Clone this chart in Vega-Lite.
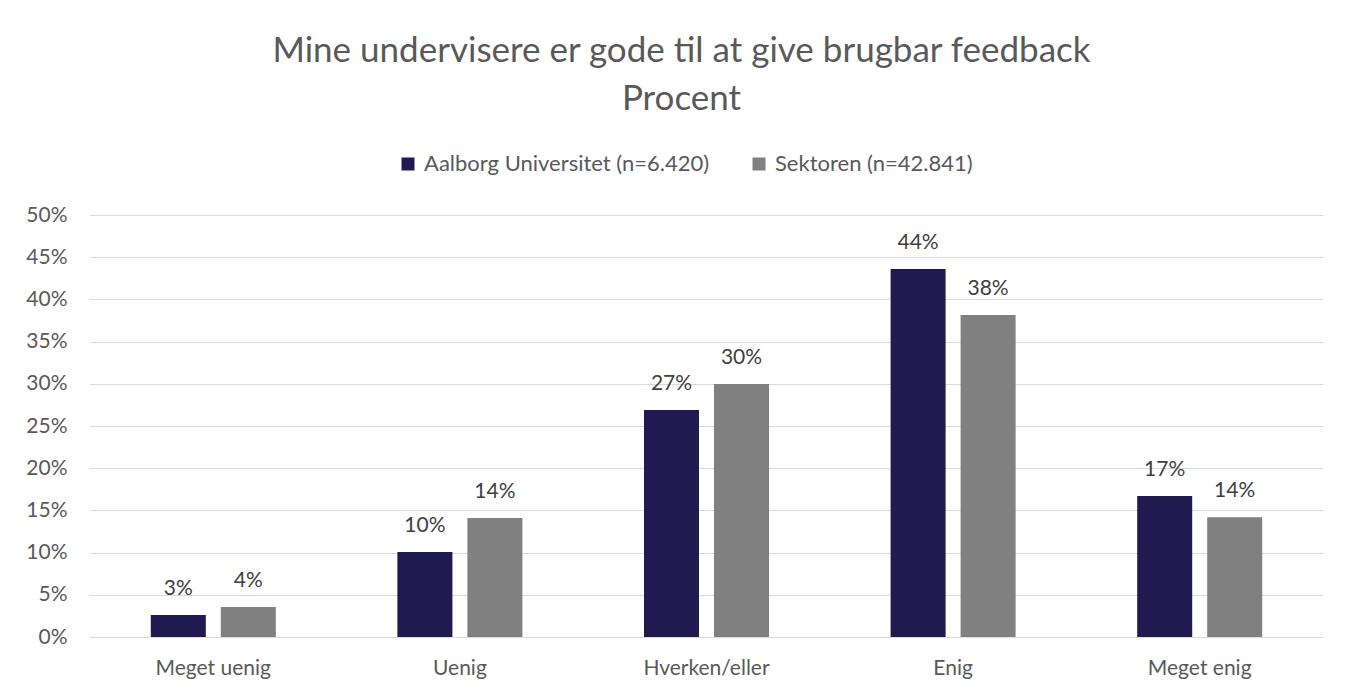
{
  "$schema": "https://vega.github.io/schema/vega-lite/v6.json",
  "width": 1233,
  "height": 422,
  "autosize": {"type": "none"},
  "padding": {"left": 90, "top": 215, "right": 23, "bottom": 56},
  "background": "white",
  "title": {
    "text": ["Mine undervisere er gode til at give brugbar feedback", "Procent"],
    "font": "Lato",
    "fontSize": 35,
    "fontWeight": "normal",
    "color": "#595959",
    "anchor": "middle",
    "frame": "group",
    "lineHeight": 48,
    "offset": 36,
    "dx": -25
  },
  "data": {
    "values": [
      {"cat": "Meget uenig", "grp": "Aalborg Universitet (n=6.420)", "v": 0.026, "lbl": "3%"},
      {"cat": "Meget uenig", "grp": "Sektoren (n=42.841)", "v": 0.0355, "lbl": "4%"},
      {"cat": "Uenig", "grp": "Aalborg Universitet (n=6.420)", "v": 0.1007, "lbl": "10%"},
      {"cat": "Uenig", "grp": "Sektoren (n=42.841)", "v": 0.141, "lbl": "14%"},
      {"cat": "Hverken/eller", "grp": "Aalborg Universitet (n=6.420)", "v": 0.269, "lbl": "27%"},
      {"cat": "Hverken/eller", "grp": "Sektoren (n=42.841)", "v": 0.2998, "lbl": "30%"},
      {"cat": "Enig", "grp": "Aalborg Universitet (n=6.420)", "v": 0.436, "lbl": "44%"},
      {"cat": "Enig", "grp": "Sektoren (n=42.841)", "v": 0.3815, "lbl": "38%"},
      {"cat": "Meget enig", "grp": "Aalborg Universitet (n=6.420)", "v": 0.167, "lbl": "17%"},
      {"cat": "Meget enig", "grp": "Sektoren (n=42.841)", "v": 0.142, "lbl": "14%"}
    ]
  },
  "encoding": {
    "x": {
      "field": "cat", "type": "nominal",
      "sort": ["Meget uenig", "Uenig", "Hverken/eller", "Enig", "Meget enig"],
      "scale": {"paddingInner": 0.493, "paddingOuter": 0.2465},
      "axis": {
        "title": null, "labelAngle": 0, "ticks": false, "domain": true,
        "domainColor": "#d9d9d9", "domainWidth": 1,
        "labelFont": "Lato", "labelFontSize": 21, "labelColor": "#595959", "labelPadding": 20
      }
    },
    "xOffset": {
      "field": "grp", "type": "nominal",
      "scale": {"paddingInner": 0.214, "paddingOuter": 0}
    },
    "y": {
      "field": "v", "type": "quantitative",
      "scale": {"domain": [0, 0.5], "nice": false},
      "axis": {
        "title": null, "format": ".0%", "values": [0, 0.05, 0.1, 0.15, 0.2, 0.25, 0.3, 0.35, 0.4, 0.45, 0.5],
        "domain": false, "ticks": false, "grid": true, "gridColor": "#d9d9d9", "gridWidth": 1,
        "labelFont": "Lato", "labelFontSize": 21, "labelColor": "#595959", "labelPadding": 23
      }
    }
  },
  "layer": [
    {
      "mark": {"type": "bar"},
      "encoding": {
        "color": {
          "field": "grp", "type": "nominal",
          "scale": {"domain": ["Aalborg Universitet (n=6.420)", "Sektoren (n=42.841)"], "range": ["#201a50", "#808080"]},
          "legend": {
            "title": null, "orient": "none", "direction": "horizontal",
            "legendX": 307, "legendY": -62,
            "symbolType": "square", "symbolSize": 169, "symbolStrokeWidth": 0,
            "labelFont": "Lato", "labelFontSize": 22, "labelColor": "#595959", "labelLimit": 0,
            "columnPadding": 38, "labelOffset": 5
          }
        }
      }
    },
    {
      "mark": {"type": "text", "dy": -26, "font": "Lato", "fontSize": 21, "color": "#404040"},
      "encoding": {"text": {"field": "lbl"}}
    }
  ],
  "config": {"view": {"stroke": null}}
}
